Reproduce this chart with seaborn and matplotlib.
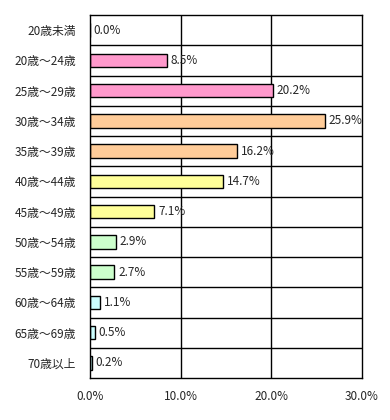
import matplotlib
matplotlib.use("Agg")
import matplotlib.pyplot as plt
import seaborn as sns
import pandas as pd

# data
age_groups = ["20歳未満", "20歳～24歳", "25歳～29歳", "30歳～34歳", "35歳～39歳",
              "40歳～44歳", "45歳～49歳", "50歳～54歳", "55歳～59歳", "60歳～64歳",
              "65歳～69歳", "70歳以上"]
shares = [0.0, 8.5, 20.2, 25.9, 16.2, 14.7, 7.1, 2.9, 2.7, 1.1, 0.5, 0.2]
bar_colors = ["#FF99CC", "#FF99CC", "#FF99CC", "#FFCC99", "#FFCC99", "#FFFF99",
              "#FFFF99", "#CCFFCC", "#CCFFCC", "#CCFFFF", "#CCFFFF", "#CCFFFF"]
x_ticks = [0, 10, 20, 30]

df = pd.DataFrame({"age": age_groups, "share": shares})

sns.set_style("white")
plt.rcParams["font.family"] = ["Noto Sans CJK JP", "DejaVu Sans"]

fig = plt.figure(figsize=(3.9, 4.2), dpi=100)
ax = fig.add_axes([90 / 390, 42 / 420, 272 / 390, 363 / 420])

sns.barplot(data=df, x="share", y="age", hue="age", palette=bar_colors,
            saturation=1, legend=False, width=0.44, edgecolor="black",
            linewidth=1, ax=ax)

for i, v in enumerate(shares):
    ax.text(v + 0.4, i, f"{v:.1f}%", va="center", ha="left", fontsize=8.5)

ax.set_xlim(0, 30)
ax.set_ylim(len(age_groups) - 0.5, -0.5)
ax.set_xticks(x_ticks)
ax.set_xticklabels([f"{t:.1f}%" for t in x_ticks], fontsize=8.5)
ax.tick_params(axis="x", length=0, pad=9)
ax.tick_params(axis="y", length=0, pad=10, labelsize=8.5)

# grid: vertical lines at ticks, horizontal lines between categories
for t in x_ticks[1:-1]:
    ax.axvline(t, color="black", linewidth=1, zorder=0)
for b in range(len(age_groups) - 1):
    ax.axhline(b + 0.5, color="black", linewidth=1, zorder=0)

for s in ax.spines.values():
    s.set_color("black")
    s.set_linewidth(1)

ax.set_xlabel("")
ax.set_ylabel("")

fig.savefig("out.png", dpi=100)
plt.close(fig)
